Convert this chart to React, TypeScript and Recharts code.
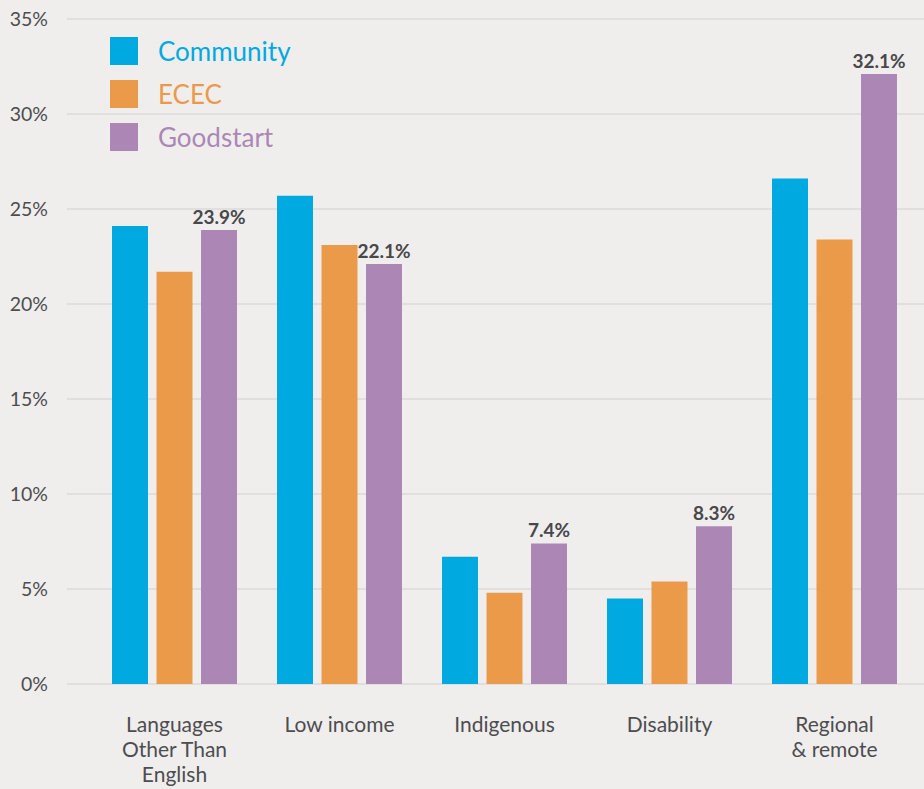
import { Bar, BarChart, CartesianGrid, LabelList, XAxis, YAxis } from "recharts"

// Категории и значения (в процентах)
const categories = ["Languages\nOther Than\nEnglish", "Low income", "Indigenous", "Disability", "Regional\n& remote"]
const community = [24.1, 25.7, 6.7, 4.5, 26.6]
const ecec = [21.7, 23.1, 4.8, 5.4, 23.4]
const goodstart = [23.9, 22.1, 7.4, 8.3, 32.1]
const yTicks = [0, 5, 10, 15, 20, 25, 30, 35]

const series = [
  { key: "Community", color: "#00a9e0" },
  { key: "ECEC", color: "#eb9a4a" },
  { key: "Goodstart", color: "#ac87b5" },
]

const data = categories.map((name, i) => ({
  name,
  Community: community[i],
  ECEC: ecec[i],
  Goodstart: goodstart[i],
}))

const FONT = "Lato, 'Open Sans', sans-serif"
const TEXT = "#4d4d50"

function CategoryTick({ x, y, payload }: any) {
  const lines = String(payload.value).split("\n")
  return (
    <text x={x} y={y + 48} textAnchor="middle" fill={TEXT} fontSize={21} fontFamily={FONT}>
      {lines.map((line, i) => (
        <tspan key={i} x={x} dy={i === 0 ? 0 : 25}>
          {line}
        </tspan>
      ))}
    </text>
  )
}

// легенда поверх графика, чтобы не сдвигать область построения
function LegendBox() {
  return (
    <div style={{ position: "absolute", left: 110, top: 29, fontFamily: FONT }}>
      {series.map((s) => (
        <div key={s.key} style={{ display: "flex", alignItems: "center", height: 43 }}>
          <div style={{ width: 28, height: 28, background: s.color, marginRight: 20 }} />
          <span style={{ color: s.color, fontSize: 26 }}>{s.key}</span>
        </div>
      ))}
    </div>
  )
}

export default function App() {
  return (
    <div style={{ position: "absolute", left: 0, top: 0, width: 924, height: 789, background: "#efeeec" }}>
      <BarChart
        width={924}
        height={789}
        data={data}
        margin={{ top: 19, right: 0, bottom: 0, left: 0 }}
        barCategoryGap={20}
        barGap={8.5}
      >
        <CartesianGrid vertical={false} stroke="#dbdad8" strokeWidth={1.5} />
        <XAxis
          dataKey="name"
          height={105}
          axisLine={false}
          tickLine={false}
          tickSize={0}
          tickMargin={0}
          interval={0}
          padding={{ left: 25, right: 7 }}
          tick={<CategoryTick />}
        />
        <YAxis
          width={67}
          domain={[0, 35]}
          ticks={yTicks}
          axisLine={false}
          tickLine={false}
          tickSize={0}
          tickMargin={19}
          tickFormatter={(v) => `${v}%`}
          tick={{ fill: TEXT, fontSize: 19.5, fontFamily: FONT }}
        />
        <Bar dataKey="Community" fill="#00a9e0" isAnimationActive={false} />
        <Bar dataKey="ECEC" fill="#eb9a4a" isAnimationActive={false} />
        <Bar dataKey="Goodstart" fill="#ac87b5" isAnimationActive={false}>
          <LabelList
            dataKey="Goodstart"
            position="top"
            offset={6}
            formatter={(v: any) => `${v}%`}
            fill="#48484b"
            fontSize={19}
            fontWeight="bold"
            fontFamily={FONT}
          />
        </Bar>
      </BarChart>
      <LegendBox />
    </div>
  )
}
